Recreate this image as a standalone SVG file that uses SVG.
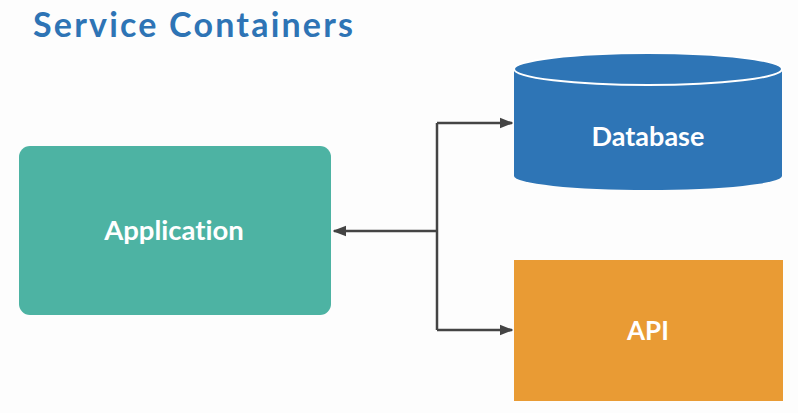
<svg xmlns="http://www.w3.org/2000/svg" width="798" height="413" viewBox="0 0 798 413">
<style>
.lbl{font-family:Lato,"Open Sans","Liberation Sans",sans-serif;font-weight:700;fill:#ffffff;text-anchor:middle;font-variant-ligatures:none}
.conn{fill:none;stroke:#444444;stroke-width:2.5}
</style>
<defs>
<marker id="ah" viewBox="0 0 10 10" refX="9" refY="5" markerWidth="5.5" markerHeight="5.5" orient="auto-start-reverse" markerUnits="strokeWidth">
<path d="M0,1 L10,5 L0,9 Z" fill="#444444"/>
</marker>
</defs>
<rect width="798" height="413" fill="#fdfdfd"/>
<text x="33" y="37" font-family="Lato,'Open Sans','Liberation Sans',sans-serif" font-weight="700" font-size="34" letter-spacing="2.2" fill="#2e74b5" style="font-variant-ligatures:none">Service Containers</text>
<g id="connectors">
<path class="conn" d="M437,231 L334,231" marker-end="url(#ah)"/>
<path class="conn" d="M437,123 L437,330"/>
<path class="conn" d="M437,123 L512,123" marker-end="url(#ah)"/>
<path class="conn" d="M437,330 L512,330" marker-end="url(#ah)"/>
</g>
<g id="application">
<rect x="19" y="146" width="312" height="169" rx="11" fill="#4db3a3"/>
<text class="lbl" x="174" y="240" font-size="27.5">Application</text>
</g>
<g id="database">
<path d="M514,69 L514,176 A134,14 0 0 0 782,176 L782,69 Z" fill="#2e75b6"/>
<ellipse cx="648" cy="69" rx="134" ry="16" fill="#2e75b6" stroke="#ffffff" stroke-width="2"/>
<text class="lbl" x="648" y="146" font-size="27">Database</text>
</g>
<g id="api">
<rect x="514" y="260" width="269" height="141" fill="#e99b34"/>
<text class="lbl" x="648" y="340" font-size="26">API</text>
</g>
</svg>
